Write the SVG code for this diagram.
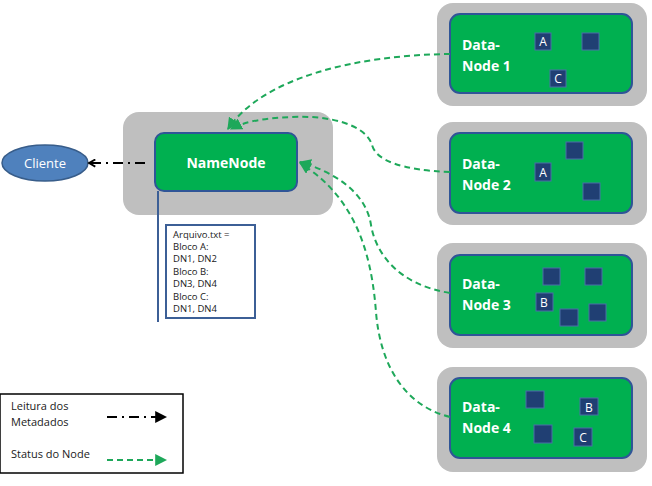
<svg xmlns="http://www.w3.org/2000/svg" width="652" height="486" viewBox="0 0 652 486">
<defs>
<style>
.outer{fill:#bfbfbf;}
.inner{fill:#00b050;stroke:#2f5597;stroke-width:2;}
.lbl{font-family:"Open Sans","Liberation Sans",sans-serif;font-weight:bold;fill:#ffffff;font-size:14px;}
.blk{fill:#203f73;stroke:#4a6fa8;stroke-width:1;}
.blt{font-family:"Open Sans","Liberation Sans",sans-serif;fill:#ffffff;font-size:12px;text-anchor:middle;}
.meta{font-family:"Open Sans","Liberation Sans",sans-serif;font-size:9.5px;fill:#1a1a1a;}
.leg{font-family:"Open Sans","Liberation Sans",sans-serif;font-size:11px;fill:#1a1a1a;}
.st{fill:none;stroke:#1ea85a;stroke-width:2;stroke-dasharray:6,4;}
.rd{fill:none;stroke:#000;stroke-width:2;stroke-dasharray:10,5,2,5;}
</style>
<marker id="ga" viewBox="0 0 10 10" refX="9" refY="5" markerWidth="6" markerHeight="6" orient="auto" markerUnits="strokeWidth">
<path d="M0,0 L10,5 L0,10 z" fill="#1ea85a"/>
</marker>
<marker id="bc" viewBox="0 0 10 10" refX="8" refY="5" markerWidth="4.5" markerHeight="4.5" orient="auto" markerUnits="strokeWidth">
<path d="M1,1 L8,5 L1,9" fill="none" stroke="#000" stroke-width="2"/>
</marker>
<marker id="bf" viewBox="0 0 10 10" refX="9" refY="5" markerWidth="6" markerHeight="6" orient="auto" markerUnits="strokeWidth">
<path d="M0,0 L10,5 L0,10 z" fill="#000"/>
</marker>
</defs>
<rect width="652" height="486" fill="#ffffff"/>

<g id="cliente">
<ellipse cx="45" cy="163" rx="43" ry="18" fill="#4f81bd" stroke="#385d8a" stroke-width="1.5"/>
<text x="45" y="168" font-family="Open Sans,Liberation Sans,sans-serif" font-size="13" fill="#ffffff" text-anchor="middle">Cliente</text>
</g>

<g id="namenode">
<rect class="outer" x="123" y="112" width="210" height="103" rx="16"/>
<rect class="inner" x="155" y="133" width="142" height="58" rx="9"/>
<text class="lbl" x="226" y="168" text-anchor="middle" font-size="15">NameNode</text>
</g>

<g id="metadata">
<rect x="166" y="225" width="89" height="93" fill="#ffffff" stroke="#3c5f96" stroke-width="2"/>
<text class="meta" x="173" y="238">Arquivo.txt =</text>
<text class="meta" x="173" y="250">Bloco A:</text>
<text class="meta" x="173" y="262">DN1, DN2</text>
<text class="meta" x="173" y="275">Bloco B:</text>
<text class="meta" x="173" y="287">DN3, DN4</text>
<text class="meta" x="173" y="300">Bloco C:</text>
<text class="meta" x="173" y="312">DN1, DN4</text>
</g>

<g id="datanode1">
<rect class="outer" x="437" y="3" width="210" height="103" rx="16"/>
<rect class="inner" x="450" y="14" width="182" height="79" rx="10"/>
<text class="lbl" x="462" y="50">Data-</text>
<text class="lbl" x="462" y="71">Node 1</text>
<rect class="blk" x="535" y="33" width="16" height="17"/>
<text class="blt" x="543" y="46">A</text>
<rect class="blk" x="582" y="33" width="17" height="17"/>
<rect class="blk" x="550" y="70" width="16" height="17"/>
<text class="blt" x="558" y="83">C</text>
</g>

<g id="datanode2">
<rect class="outer" x="437" y="122" width="210" height="103" rx="16"/>
<rect class="inner" x="450" y="133" width="182" height="80" rx="10"/>
<text class="lbl" x="462" y="169">Data-</text>
<text class="lbl" x="462" y="190">Node 2</text>
<rect class="blk" x="535" y="163" width="16" height="18"/>
<text class="blt" x="543" y="177">A</text>
<rect class="blk" x="566" y="142" width="17" height="17"/>
<rect class="blk" x="583" y="183" width="17" height="17"/>
</g>

<g id="datanode3">
<rect class="outer" x="437" y="243" width="210" height="105" rx="16"/>
<rect class="inner" x="450" y="255" width="182" height="80" rx="10"/>
<text class="lbl" x="462" y="289">Data-</text>
<text class="lbl" x="462" y="310">Node 3</text>
<rect class="blk" x="543" y="268" width="17" height="17"/>
<rect class="blk" x="585" y="268" width="17" height="17"/>
<rect class="blk" x="536" y="293" width="17" height="18"/>
<text class="blt" x="544" y="307">B</text>
<rect class="blk" x="560" y="309" width="18" height="17"/>
<rect class="blk" x="589" y="304" width="17" height="17"/>
</g>

<g id="datanode4">
<rect class="outer" x="437" y="367" width="210" height="105" rx="16"/>
<rect class="inner" x="450" y="378" width="182" height="80" rx="10"/>
<text class="lbl" x="462" y="412">Data-</text>
<text class="lbl" x="462" y="433">Node 4</text>
<rect class="blk" x="526" y="391" width="18" height="17"/>
<rect class="blk" x="580" y="398" width="18" height="17"/>
<text class="blt" x="589" y="412">B</text>
<rect class="blk" x="534" y="425" width="18" height="18"/>
<rect class="blk" x="574" y="428" width="18" height="18"/>
<text class="blt" x="583" y="442">C</text>
</g>

<g id="connectors">
<path class="st" d="M450,54 C355,55 262,78 228,129" marker-end="url(#ga)"/>
<path class="st" d="M450,172 C400,170 376,160 372,145 C366,125 330,115 292,117 C262,118 244,122 231,129" marker-end="url(#ga)"/>
<path class="st" d="M450,293 C400,285 376,255 371,225 C366,192 334,172 300,162" marker-end="url(#ga)"/>
<path class="st" d="M450,417 C402,405 380,362 376,312 C372,262 360,200 300,163" marker-end="url(#ga)"/>
<path class="rd" d="M145,163 L89,163" marker-end="url(#bc)"/>
<line x1="158" y1="191" x2="158" y2="322" stroke="#3c5f96" stroke-width="2"/>
</g>

<g id="legend">
<rect x="0" y="394" width="183" height="79" fill="#ffffff" stroke="#000" stroke-width="1.5"/>
<text class="leg" x="11" y="410">Leitura dos</text>
<text class="leg" x="11" y="426">Metadados</text>
<text class="leg" x="11" y="458">Status do Node</text>
<path class="rd" d="M107,417 L166,417" marker-end="url(#bf)" stroke-dasharray="8,4,2,4"/>
<path class="st" d="M107,460 L166,460" marker-end="url(#ga)" stroke-dasharray="5,3"/>
</g>
</svg>
